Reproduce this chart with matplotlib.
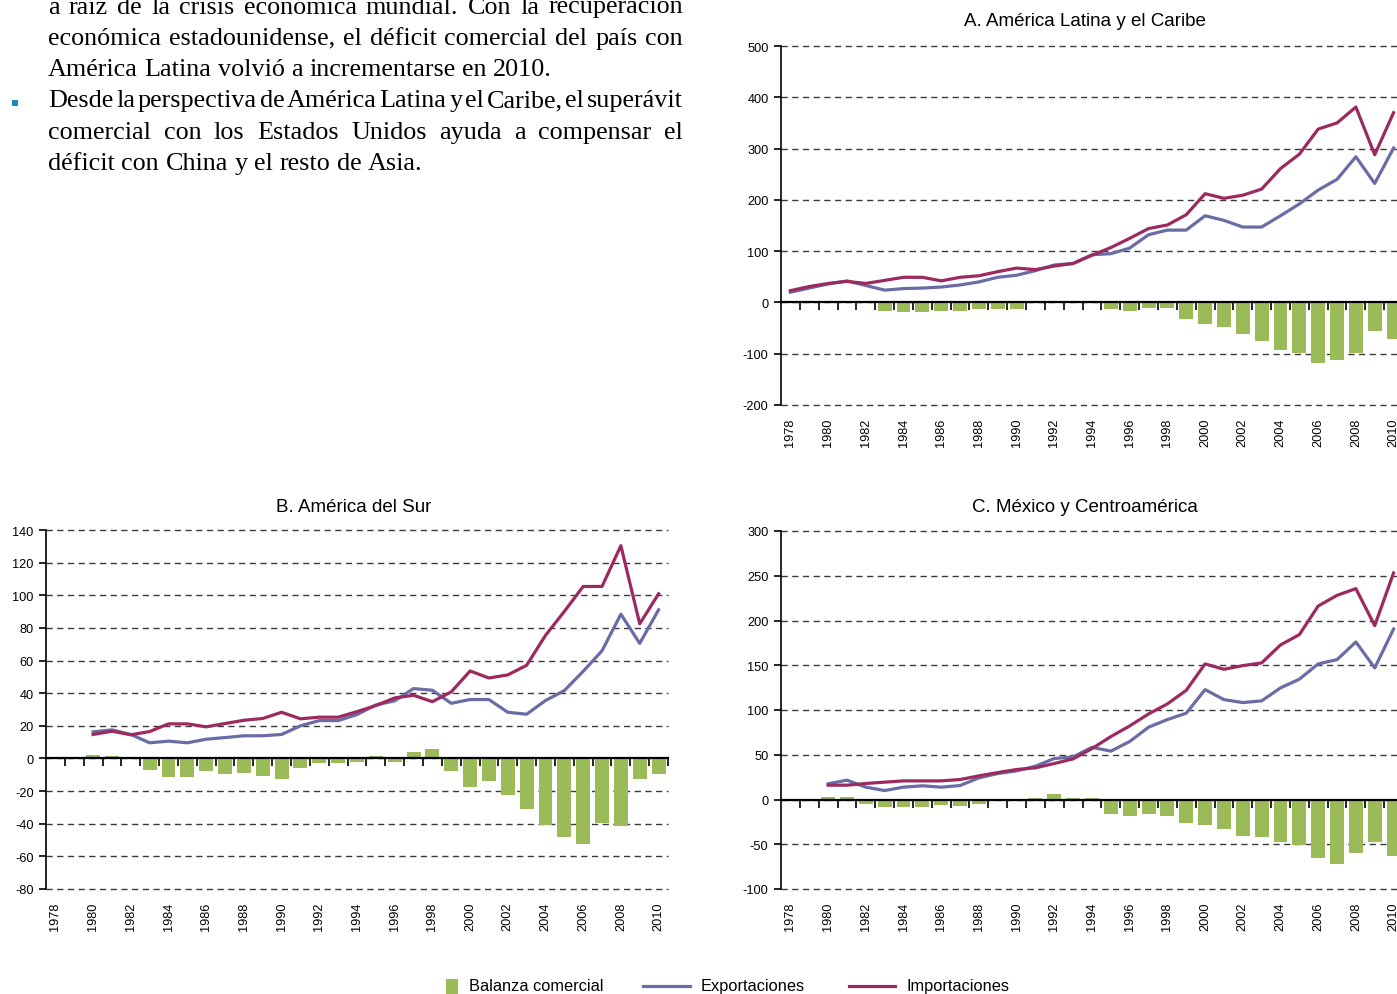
import matplotlib
matplotlib.use("Agg")
import matplotlib.pyplot as plt
import numpy as np
from matplotlib.lines import Line2D
from matplotlib.patches import Rectangle

nan = np.nan

# ---------------- data ----------------
years = list(range(1978, 2011))

a_exp = [20, 28, 36, 42, 33, 24, 27, 28, 30, 34, 40, 49, 53, 62, 73, 76, 93, 95, 106,
         132, 141, 141, 169, 160, 147, 147, 169, 192, 219, 240, 284, 232, 301]
a_imp = [23, 31, 37, 41, 37, 43, 49, 49, 42, 49, 52, 60, 67, 64, 71, 76, 92, 107, 125,
         144, 151, 171, 212, 203, 209, 221, 261, 289, 338, 350, 381, 288, 370]
a_bal = [0, -1, 2, 2, -1, -17, -18, -18, -16, -16, -13, -12, -12, -2, 2, 0, 0, -12, -16,
         -10, -10, -32, -43, -47, -61, -75, -93, -98, -118, -112, -98, -55, -71]

b_exp = [nan, nan, 16.3, 17.5, 14.7, 9.6, 10.6, 9.6, 11.8, 12.8, 13.9, 13.9, 14.7,
         20, 23.2, 23.2, 26.9, 32.8, 35.3, 42.8, 41.8, 33.8, 36.1,
         36.1, 28.3, 27.1, 35.5, 41.6, 53.4, 66, 88.4, 70.5, 91.1]
b_imp = [nan, nan, 14.7, 16.7, 14.5, 16.5, 21.2, 21.2, 19.4, 21.4, 23.4, 24.5, 28.3,
         24.3, 25.3, 25.3, 28.7, 32.4, 37.1, 38.7, 34.8, 40.8, 53.6,
         49.3, 51.2, 57.1, 75.4, 90.1, 105.4, 105.4, 130.4, 82.5, 100.9]
b_bal = [nan, nan, 2, 1.4, 0, -7, -11.2, -11.2, -7.7, -9.4, -8.8, -10.6, -12.4,
         -5.7, -2.6, -2.6, -2, 1.4, -2, 3.9, 5.7, -7.7, -17.3,
         -13.9, -22.2, -30.8, -40.6, -47.9, -52.2, -39.3, -41.2, -12.4, -9.4]

c_exp = [nan, nan, 17.5, 21.6, 13.8, 10, 13.8, 15.3, 13.8, 15.6, 24.2, 29, 32,
         37.2, 45.8, 47.6, 58.4, 54, 64.8, 80.8, 89.3, 96.4, 122.8,
         111.6, 108.3, 110.2, 124.7, 134.4, 151.5, 156.3, 176, 147, 190.5]
c_imp = [nan, nan, 16, 16, 17.9, 19.4, 20.8, 20.8, 20.8, 22.3, 26.4, 30.1, 33.5,
         35.4, 40.2, 45.4, 56.9, 70.3, 82.2, 95.6, 106.8, 122, 151.5,
         145.5, 149.6, 152.6, 172.7, 184.2, 216.2, 228.1, 235.6, 194.3, 253.1]
c_bal = [nan, nan, 3, 3, -4.5, -8.9, -8.2, -8.2, -5.6, -7.8, -4.5, -2.2, -2.2,
         1.9, 5.6, 1.9, 1.9, -16.7, -17.9, -16.7, -17.9, -26.8, -29,
         -33.5, -41.3, -42.4, -48, -50.6, -65.9, -72.6, -60.3, -48, -63.6]

a_yticks = [-200, -100, 0, 100, 200, 300, 400, 500]
b_yticks = [-80, -60, -40, -20, 0, 20, 40, 60, 80, 100, 120, 140]
c_yticks = [-100, -50, 0, 50, 100, 150, 200, 250, 300]

titles = ["A. América Latina y el Caribe", "B. América del Sur", "C. México y Centroamérica"]
legend_labels = ["Balanza comercial", "Exportaciones", "Importaciones"]

body_lines = [
    ("a raíz de la crisis económica mundial. Con la recuperación", True),
    ("económica estadounidense, el déficit comercial del país con", True),
    ("América Latina volvió a incrementarse en 2010.", False),
    ("Desde la perspectiva de América Latina y el Caribe, el superávit", True),
    ("comercial con los Estados Unidos ayuda a compensar el", True),
    ("déficit con China y el resto de Asia.", False),
]

# ---------------- style ----------------
GREEN = "#9bbb59"
BLUE = "#6a6ca6"
RED = "#9c2a5f"
BULLET = "#1b8bc2"

W, H = 1397, 995
plt.rcParams["font.family"] = ["Liberation Sans", "DejaVu Sans"]
fig = plt.figure(figsize=(W / 100, H / 100), dpi=100)


def fx(px):
    return px / W


def fy(py):
    return 1 - py / H


def draw_panel(left, top, bottom, ylim, yticks, exp, imp, bal, title, tx, ty):
    ax = fig.add_axes([fx(left), fy(bottom), 622 / W, (bottom - top) / H])
    x = np.arange(len(years))
    ax.bar(x, np.array(bal, float), width=0.74, color=GREEN, zorder=2)
    ax.plot(x, np.array(exp, float), color=BLUE, lw=2.3, zorder=3)
    ax.plot(x, np.array(imp, float), color=RED, lw=2.3, zorder=4)
    ax.set_xlim(-0.5, len(years) - 0.5)
    ax.set_ylim(*ylim)
    ax.set_yticks(yticks)
    ax.set_yticklabels([str(v) for v in yticks])
    ax.grid(axis="y", color="#3a3a3a", lw=1.0, linestyle=(0, (4.5, 3.2)))
    for gl in ax.get_ygridlines():
        gl.set_clip_on(False)
    ax.set_axisbelow(True)
    for s in ("top", "right"):
        ax.spines[s].set_visible(False)
    ax.spines["left"].set_linewidth(1.2)
    ax.spines["bottom"].set_position(("data", 0))
    ax.spines["bottom"].set_linewidth(1.6)
    ax.spines["bottom"].set_zorder(5)
    ax.set_xticks(np.arange(0.5, len(years), 1.0))
    ax.tick_params(axis="x", direction="out", length=6, width=1.2, labelbottom=False)
    ax.tick_params(axis="y", direction="out", length=5, width=1.2, labelsize=9.2, pad=4)
    sec = ax.secondary_xaxis("bottom")
    even = x[::2]
    sec.set_xticks(even, labels=[str(years[i]) for i in even])
    sec.tick_params(length=0, pad=9, labelsize=9.2, labelrotation=90)
    sec.spines["bottom"].set_visible(False)
    fig.text(fx(tx), fy(ty), title, ha="center", va="center", fontsize=13.5)
    return ax


draw_panel(781, 47, 406, (-200, 500), a_yticks, a_exp, a_imp, a_bal, titles[0], 1085, 22)
draw_panel(46, 531, 890, (-80, 140), b_yticks, b_exp, b_imp, b_bal, titles[1], 354, 507)
draw_panel(781, 532, 890, (-100, 300), c_yticks, c_exp, c_imp, c_bal, titles[2], 1085, 507)

# ---------------- legend ----------------
fig.add_artist(Rectangle((fx(446), fy(996)), 12 / W, 16 / H, transform=fig.transFigure,
                         facecolor=GREEN, edgecolor="none"))
fig.add_artist(Line2D([fx(643), fx(690)], [fy(987), fy(987)], transform=fig.transFigure,
                      color=BLUE, lw=2.3))
fig.add_artist(Line2D([fx(849), fx(895)], [fy(987), fy(987)], transform=fig.transFigure,
                      color=RED, lw=2.3))
for lx, lab in zip([469, 701, 907], legend_labels):
    fig.text(fx(lx), fy(987), lab, ha="left", va="center", fontsize=11.8)

# ---------------- body text (justified) ----------------
renderer = fig.canvas.get_renderer()
SERIF = "Liberation Serif"


def width_of(s, fs):
    t = fig.text(0, 0, s, fontsize=fs, family=SERIF)
    w = t.get_window_extent(renderer).width
    t.remove()
    return w


X0, X1 = 48, 683
fs0 = 16.0
w3 = width_of(body_lines[2][0], fs0)
fs = fs0 * 520 / w3
sp0 = width_of("a a", fs0) - 2 * width_of("a", fs0)
for line, just in body_lines:
    if just:
        words = line.split(" ")
        need = sum(width_of(w, fs0) for w in words) + 0.45 * sp0 * (len(words) - 1)
        fs = min(fs, fs0 * (X1 - X0) / need)

space = width_of("a a", fs) - 2 * width_of("a", fs)
base0, step = 13.5, 31.3
for i, (line, just) in enumerate(body_lines):
    words = line.split(" ")
    widths = [width_of(w, fs) for w in words]
    gap = (X1 - X0 - sum(widths)) / (len(words) - 1) if just else space
    xpos = X0
    yb = base0 + i * step
    for w, wd in zip(words, widths):
        fig.text(fx(xpos), fy(yb), w, fontsize=fs, family=SERIF, ha="left", va="baseline")
        xpos += wd + gap

fig.add_artist(Rectangle((fx(12), fy(107)), 6 / W, 6 / H, transform=fig.transFigure,
                         facecolor=BULLET, edgecolor="none"))

fig.savefig("out.png", dpi=100)
